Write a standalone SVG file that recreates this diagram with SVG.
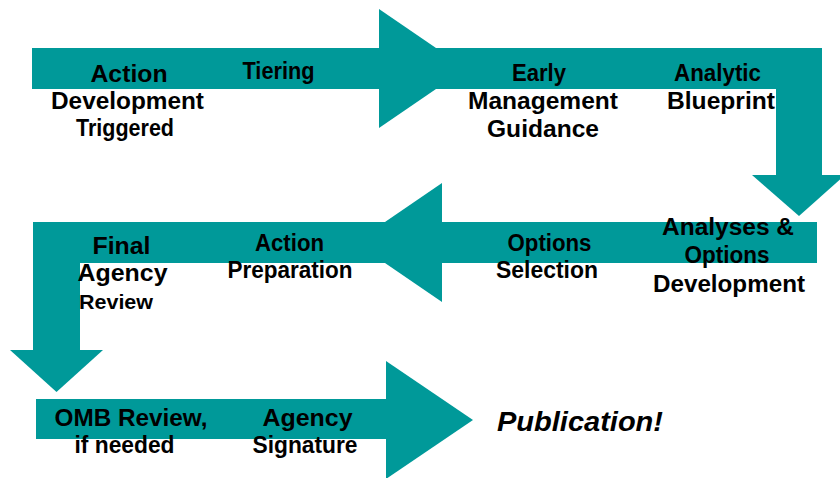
<svg xmlns="http://www.w3.org/2000/svg" width="840" height="478" viewBox="0 0 840 478">
  <style>
    .flow { fill: #009999; stroke: none; }
    .lbl { font-family: "Liberation Sans", Arial, sans-serif; font-weight: bold; font-size: 23.5px; fill: #000; text-anchor: middle; }
    .small { font-size: 21px; }
    .big { font-size: 28px; font-style: italic; }
  </style>
  <rect width="840" height="478" fill="#fff"/>

  <!-- process flow arrows -->
  <g id="connectors">
    <!-- row 1: left to right, then down -->
    <polygon class="flow" points="379,9 379,128 466,68.5"/>
    <rect class="flow" x="32" y="48" width="790" height="41"/>
    <rect class="flow" x="776" y="48" width="46" height="128"/>
    <polygon class="flow" points="752,175 845,175 799,216"/>
    <!-- row 2: right to left, then down -->
    <polygon class="flow" points="442,183 442,302 355,242.5"/>
    <rect class="flow" x="33" y="222" width="784" height="41"/>
    <rect class="flow" x="33" y="222" width="47" height="129"/>
    <polygon class="flow" points="10,350 103,350 56.5,392"/>
    <!-- row 3: to publication -->
    <rect class="flow" x="36" y="399" width="352" height="40"/>
    <polygon class="flow" points="386,361 386,479 473,420"/>
  </g>

  <g id="action-development-triggered">
    <text class="lbl" x="129" y="81.5" textLength="77" lengthAdjust="spacingAndGlyphs">Action</text>
    <text class="lbl" x="127.5" y="108.5" textLength="153" lengthAdjust="spacingAndGlyphs">Development</text>
    <text class="lbl" x="125" y="136" textLength="98" lengthAdjust="spacingAndGlyphs">Triggered</text>
  </g>
  <g id="tiering">
    <text class="lbl" x="278.5" y="78.5" textLength="72" lengthAdjust="spacingAndGlyphs">Tiering</text>
  </g>
  <g id="early-management-guidance">
    <text class="lbl" x="539" y="81" textLength="54" lengthAdjust="spacingAndGlyphs">Early</text>
    <text class="lbl" x="543" y="109" textLength="150" lengthAdjust="spacingAndGlyphs">Management</text>
    <text class="lbl" x="543" y="137" textLength="112" lengthAdjust="spacingAndGlyphs">Guidance</text>
  </g>
  <g id="analytic-blueprint">
    <text class="lbl" x="717.5" y="81" textLength="87" lengthAdjust="spacingAndGlyphs">Analytic</text>
    <text class="lbl" x="721" y="109" textLength="108" lengthAdjust="spacingAndGlyphs">Blueprint</text>
  </g>
  <g id="analyses-options-development">
    <text class="lbl" x="728" y="235" textLength="132" lengthAdjust="spacingAndGlyphs">Analyses &amp;</text>
    <text class="lbl" x="727" y="263" textLength="85" lengthAdjust="spacingAndGlyphs">Options</text>
    <text class="lbl" x="729" y="291.5" textLength="152" lengthAdjust="spacingAndGlyphs">Development</text>
  </g>
  <g id="options-selection">
    <text class="lbl" x="549.5" y="250.5" textLength="84" lengthAdjust="spacingAndGlyphs">Options</text>
    <text class="lbl" x="547" y="278" textLength="102" lengthAdjust="spacingAndGlyphs">Selection</text>
  </g>
  <g id="action-preparation">
    <text class="lbl" x="289.5" y="250.5" textLength="69" lengthAdjust="spacingAndGlyphs">Action</text>
    <text class="lbl" x="290" y="278" textLength="125" lengthAdjust="spacingAndGlyphs">Preparation</text>
  </g>
  <g id="final-agency-review">
    <text class="lbl" x="121.5" y="254" textLength="58" lengthAdjust="spacingAndGlyphs">Final</text>
    <text class="lbl" x="122.5" y="281" textLength="90" lengthAdjust="spacingAndGlyphs">Agency</text>
    <text class="lbl small" x="116" y="309" textLength="74" lengthAdjust="spacingAndGlyphs">Review</text>
  </g>
  <g id="omb-review">
    <text class="lbl" x="131" y="425.5" textLength="153" lengthAdjust="spacingAndGlyphs">OMB Review,</text>
    <text class="lbl" x="124.5" y="453" textLength="100" lengthAdjust="spacingAndGlyphs">if needed</text>
  </g>
  <g id="agency-signature">
    <text class="lbl" x="307.5" y="425.5" textLength="90" lengthAdjust="spacingAndGlyphs">Agency</text>
    <text class="lbl" x="305" y="453" textLength="105" lengthAdjust="spacingAndGlyphs">Signature</text>
  </g>
  <g id="publication">
    <text class="lbl big" x="580" y="431" textLength="166" lengthAdjust="spacingAndGlyphs">Publication!</text>
  </g>
</svg>
